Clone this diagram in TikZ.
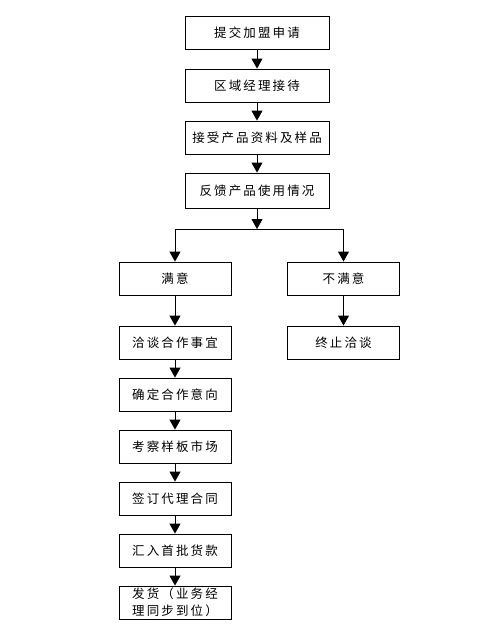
\documentclass[tikz,border=0pt]{standalone}
\usepackage{fontspec}
\newfontfamily\cjkfont[LetterSpace=17]{Noto Sans CJK SC}
\usetikzlibrary{arrows.meta}
\tikzset{
    stepbox/.style={draw, line width=0.9pt, minimum height=33pt, inner sep=0pt,
        font=\cjkfont\fontsize{12.5}{17}\selectfont},
    widebox/.style={stepbox, minimum width=144pt},
    narrowbox/.style={stepbox, minimum width=112pt},
    flow/.style={line width=0.9pt, -{Triangle[length=10pt,width=11pt]}}}

\begin{document}
\begin{tikzpicture}[x=1pt, y=1pt]
            \useasboundingbox (0,0) rectangle (500,-638);

                    \node[widebox] (apply) at (257,-33) {提交加盟申请};
                    \node[widebox] (meet) at (257,-85.5) {区域经理接待};
                    \node[widebox] (sample) at (257,-137.5) {接受产品资料及样品};
                    \node[widebox, minimum height=35pt] (feedback) at (257,-190.5) {反馈产品使用情况};
                    \coordinate (split) at (257,-229);

                    \node[narrowbox] (ok) at (175,-278.5) {满意};
                    \node[narrowbox] (notok) at (343.5,-278.5) {不满意};
                    \node[narrowbox] (stop) at (343.5,-342.5) {终止洽谈};

                    \node[narrowbox] (talks) at (175,-342.5) {洽谈合作事宜};
                    \node[narrowbox] (intent) at (175,-394.5) {确定合作意向};
                    \node[narrowbox] (survey) at (175,-446.5) {考察样板市场};
                    \node[narrowbox] (contract) at (175,-498.5) {签订代理合同};
                    \node[narrowbox] (payment) at (175,-550.5) {汇入首批货款};
                    \node[narrowbox, align=left] (ship) at (175,-602.5) {发货（业务经\\理同步到位）};

                    \draw[flow] (apply) -- (meet);
                    \draw[flow] (meet) -- (sample);
                    \draw[flow] (sample) -- (feedback);
                    \draw[flow] (feedback) -- (split);
                    \draw[flow] (split) -| (ok);
                    \draw[flow] (split) -| (notok);
                    \draw[flow] (notok) -- (stop);
                    \draw[flow] (ok) -- (talks);
                    \draw[flow] (talks) -- (intent);
                    \draw[flow] (intent) -- (survey);
                    \draw[flow] (survey) -- (contract);
                    \draw[flow] (contract) -- (payment);
                    \draw[flow] (payment) -- (ship);

                \end{tikzpicture}
\end{document}
